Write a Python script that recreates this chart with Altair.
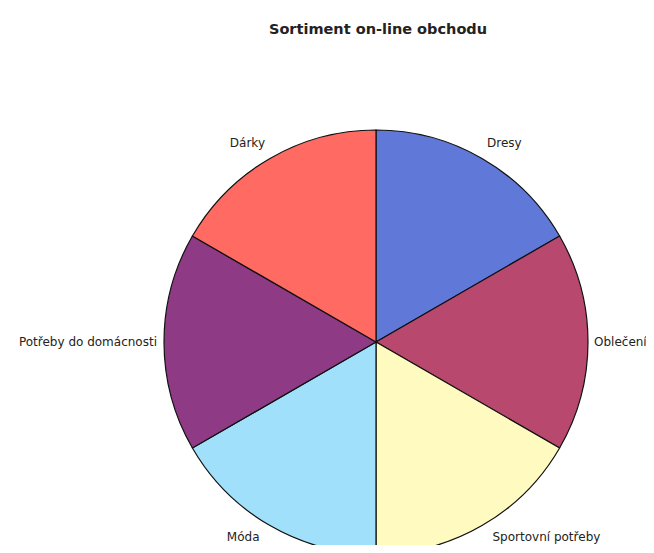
import altair as alt
import pandas as pd
import math

categories = ["Dresy", "Oblečení", "Sportovní potřeby", "Móda", "Potřeby do domácnosti", "Dárky"]
values = [1, 1, 1, 1, 1, 1]
colors = ["#6078D8", "#B8486E", "#FFFBC0", "#A0E0FA", "#8E3A85", "#FF6A62"]

df = pd.DataFrame({"kategorie": categories, "hodnota": values,
                   "poradi": list(range(len(categories)))})

# label placement style per category (align, baseline, radius)
label_style = {
    "Dresy": ("left", "bottom", 222),
    "Oblečení": ("left", "middle", 218),
    "Sportovní potřeby": ("left", "bottom", 233),
    "Móda": ("right", "bottom", 233),
    "Potřeby do domácnosti": ("right", "middle", 219),
    "Dárky": ("right", "bottom", 222),
}

cx, cy = 368, 294
R = 212
font = "DejaVu Sans"

theta_scale = alt.Scale(domain=[0, 1], range=[0, 2 * math.pi])

base = alt.Chart(df).transform_window(
    cum="sum(hodnota)", sort=[alt.SortField("poradi")]
).transform_joinaggregate(
    total="sum(hodnota)"
).transform_calculate(
    f0="(datum.cum - datum.hodnota) / datum.total",
    f1="datum.cum / datum.total",
    fm="(datum.cum - datum.hodnota / 2) / datum.total",
)

pie = base.mark_arc(radius=R, stroke="#111111", strokeWidth=1.2).encode(
    theta=alt.Theta("f0:Q", stack=None, scale=theta_scale),
    theta2="f1:Q",
    x=alt.value(cx), y=alt.value(cy),
    color=alt.Color("kategorie:N", sort=categories,
                    scale=alt.Scale(domain=categories, range=colors), legend=None),
)

labels_base = base.encode(
    theta=alt.Theta("fm:Q", stack=None, scale=theta_scale),
    x=alt.value(cx), y=alt.value(cy),
    text="kategorie:N",
)

layers = [pie]
for cat in categories:
    al, bl, rr = label_style[cat]
    layers.append(
        labels_base.transform_filter(alt.datum.kategorie == cat).mark_text(
            radius=rr, align=al, baseline=bl, font=font, fontSize=12, color="#222222"
        )
    )

chart = alt.layer(*layers).properties(
    width=638, height=497,
    title=alt.Title("Sortiment on-line obchodu", font=font, fontSize=14.5,
                    fontWeight="bold", color="#222222", anchor="middle", dx=51, offset=11),
    autosize=alt.AutoSizeParams(type="none"),
    padding={"left": 0, "top": 40, "right": 0, "bottom": 0},
).configure_view(stroke=None)

chart.save("out.html", embed_options={"renderer": "svg", "actions": False})
